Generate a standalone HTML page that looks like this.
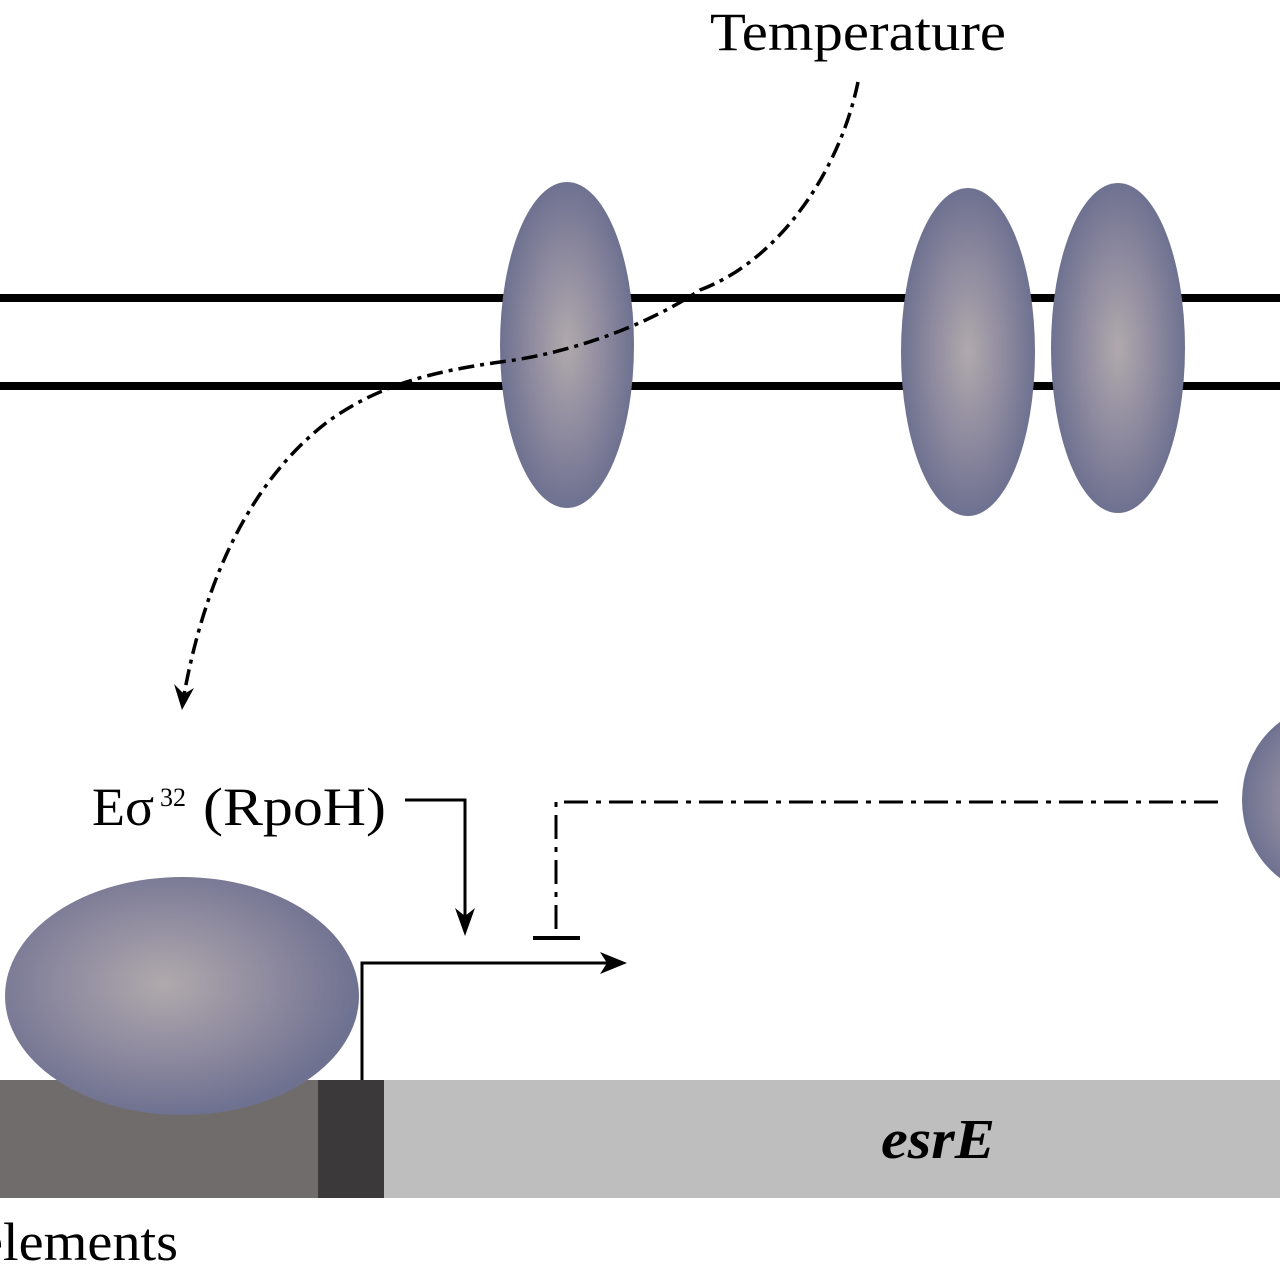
<!DOCTYPE html>
<html><head><style>
html,body{margin:0;padding:0;background:#fff;}
svg{display:block;}
text{font-family:"Liberation Serif",serif;fill:#000;}
</style></head><body>
<svg width="1280" height="1281" viewBox="0 0 1280 1281" xmlns="http://www.w3.org/2000/svg">
<defs>
<radialGradient id="g" cx="50%" cy="50%" r="50%">
<stop offset="0" stop-color="#b0a9ac"/>
<stop offset="0.55" stop-color="#8e8a9f"/>
<stop offset="1" stop-color="#6e7190"/>
</radialGradient>
<radialGradient id="g2" cx="45%" cy="45%" r="55%">
<stop offset="0" stop-color="#b0a9ac"/>
<stop offset="0.55" stop-color="#8e8a9f"/>
<stop offset="1" stop-color="#6e7190"/>
</radialGradient>
</defs>
<rect x="0" y="294" width="1280" height="8" fill="#000"/>
<rect x="0" y="382" width="1280" height="8" fill="#000"/>
<ellipse cx="567" cy="345" rx="67" ry="163" fill="url(#g)"/>
<ellipse cx="968" cy="352" rx="67" ry="164" fill="url(#g)"/>
<ellipse cx="1118" cy="348" rx="67" ry="165" fill="url(#g)"/>
<ellipse cx="1330" cy="800" rx="88" ry="95" fill="url(#g)"/>
<path d="M858,82 C840,170 780,260 700,290 C640,330 560,355 500,362 C430,372 380,385 330,420 C250,480 205,580 184,695" fill="none" stroke="#000" stroke-width="3.5" stroke-dasharray="16,6,4,6"/>
<path d="M174,684 L182,710 L194,688 L184,694 Z" fill="#000"/>
<text x="710" y="50" font-size="54" textLength="296" lengthAdjust="spacingAndGlyphs">Temperature</text>
<rect x="0" y="1080" width="318" height="118" fill="#716c6c"/>
<rect x="318" y="1080" width="66" height="118" fill="#3b3939"/>
<rect x="384" y="1080" width="896" height="118" fill="#bebebe"/>
<ellipse cx="182" cy="996" rx="177" ry="119" fill="url(#g2)"/>
<path d="M362,1080 V963 H615" fill="none" stroke="#000" stroke-width="3"/>
<path d="M600,952 L627,963 L600,974 L607,963 Z" fill="#000"/>
<text x="92" y="825" font-size="54">Eσ</text>
<text x="160" y="806" font-size="26">32</text>
<text x="203" y="825" font-size="54" textLength="183" lengthAdjust="spacingAndGlyphs">(RpoH)</text>
<path d="M405,800 H465 V922" fill="none" stroke="#000" stroke-width="3"/>
<path d="M455,908 L465,936 L475,908 L465,916 Z" fill="#000"/>
<path d="M1218,802 H556 V938" fill="none" stroke="#000" stroke-width="3" stroke-dasharray="24,8,5,8"/>
<rect x="533" y="936" width="47" height="4" fill="#000"/>
<text x="881" y="1158" font-size="56" font-weight="bold" font-style="italic" textLength="114" lengthAdjust="spacingAndGlyphs">esrE</text>
<text x="-22" y="1260" font-size="54" textLength="200" lengthAdjust="spacingAndGlyphs">elements</text>
</svg>
</body></html>
